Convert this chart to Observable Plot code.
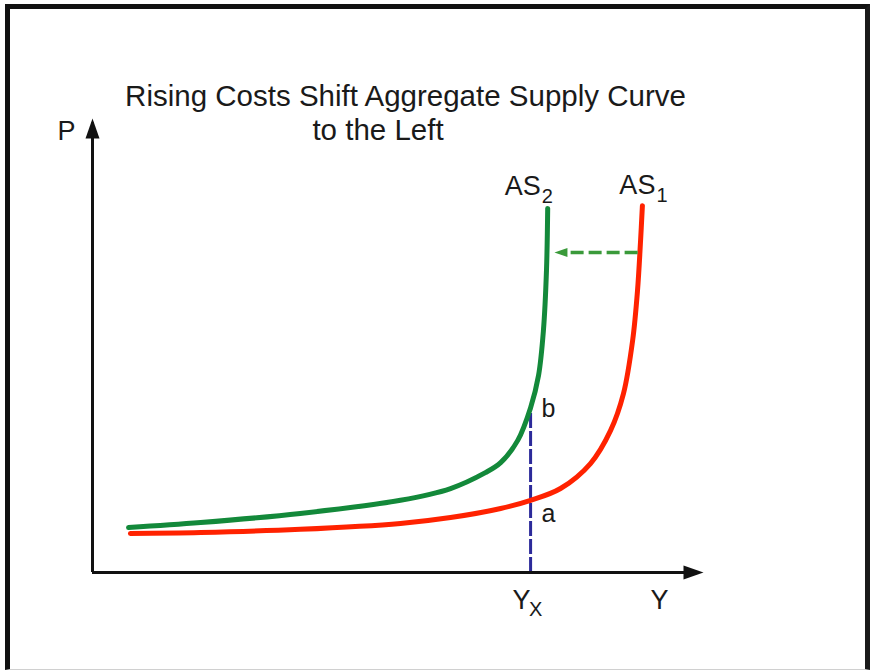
<!DOCTYPE html>
<html>
<head>
<meta charset="utf-8">
<script src="https://cdn.jsdelivr.net/npm/d3@7"></script>
<script src="https://cdn.jsdelivr.net/npm/@observablehq/plot@0.6"></script>
<style>
  html, body { margin: 0; padding: 0; background: #fff; }
  #wrap { position: relative; width: 874px; height: 670px; overflow: hidden; }
  #wrap svg { display: block; }
  #border { position: absolute; left: 5px; top: 4px; width: 865px; height: 666px; box-sizing: border-box;
            border-left: 5px solid #111; border-top: 5px solid #111; border-right: 5px solid #1a1a1a;
            border-bottom: 1px solid #d0d0d0; pointer-events: none; }
</style>
</head>
<body>
<div id="wrap"><div id="border"></div></div>
<script>
// ---- Data (output Y on x, price level P on y; arbitrary units 0..100) ----
const titleLine1 = "Rising Costs Shift Aggregate Supply Curve";
const titleLine2 = "to the Left";

const as1X = [6.2, 17.7, 34.0, 50.4, 58.6, 66.8, 71.7, 76.6, 81.5, 84.8, 86.9, 88.4, 89.2, 89.7, 90.0];
const as1P = [8.6, 8.8, 9.5, 10.8, 12.1, 14.1, 15.9, 18.5, 24.0, 31.3, 39.4, 51.1, 62.1, 73.1, 80.8];

const as2X = [5.9, 17.7, 34.0, 50.4, 58.6, 64.3, 66.8, 69.6, 71.7, 73.0, 73.8, 74.3, 74.5];
const as2P = [9.9, 11.0, 13.0, 15.9, 18.5, 22.0, 24.2, 29.1, 36.3, 43.4, 53.3, 66.5, 80.2];

const yx = 71.7;          // output level Yx
const pointAP = 15.9;     // price at point a (on AS1)
const pointBP = 36.3;     // price at point b (on AS2)

const shiftP = 70.5;      // price level of the shift arrow
const shiftFrom = 89.3;   // starts at AS1
const shiftTo = 75.6;     // ends at AS2

const axisMax = 100;

const as1 = as1X.map((x, i) => ({x, p: as1P[i]}));
const as2 = as2X.map((x, i) => ({x, p: as2P[i]}));
const as1Top = as1[as1.length - 1];
const as2Top = as2[as2.length - 1];

// custom arrowhead symbol: tip at origin, pointing up
const arrowHead = {
  draw(ctx, size) {
    const r = Math.sqrt(size / Math.PI);
    ctx.moveTo(0, 0);
    ctx.lineTo(0.7 * r, 2 * r);
    ctx.lineTo(-0.7 * r, 2 * r);
    ctx.closePath();
  }
};

const font = "Liberation Sans, Arial, Helvetica, sans-serif";
const txt = {fontFamily: font, fill: "#1a1a1a", lineAnchor: "bottom"};

const chart = Plot.plot({
  width: 874,
  height: 670,
  marginLeft: 92,
  marginRight: 171,
  marginTop: 118,
  marginBottom: 98,
  x: {domain: [0, axisMax], axis: null},
  y: {domain: [0, axisMax], axis: null},
  style: {background: "white"},
  marks: [
    // blue dashed guide at Yx
    Plot.ruleX([yx], {y1: 0, y2: pointBP, stroke: "#2c2a9a", strokeWidth: 3, strokeDasharray: "15,3"}),
    // curves
    Plot.line(as1, {x: "x", y: "p", curve: "catmull-rom", stroke: "#ff2200", strokeWidth: 5, strokeLinecap: "round"}),
    Plot.line(as2, {x: "x", y: "p", curve: "catmull-rom", stroke: "#13893a", strokeWidth: 5, strokeLinecap: "round"}),
    // shift arrow
    Plot.ruleY([shiftP], {x1: shiftFrom, x2: shiftTo + 1.2, stroke: "#3a9a3a", strokeWidth: 3.5, strokeDasharray: "13,5"}),
    Plot.dot([{x: shiftTo, p: shiftP}], {x: "x", y: "p", symbol: arrowHead, r: 6.5, rotate: -90, fill: "#3a9a3a", stroke: "none"}),
    // axes
    Plot.ruleX([0], {y1: 0, y2: axisMax - 1, stroke: "#111", strokeWidth: 3}),
    Plot.ruleY([0], {x1: 0, x2: axisMax - 1, stroke: "#111", strokeWidth: 3}),
    Plot.dot([{x: 0, p: axisMax}], {x: "x", y: "p", symbol: arrowHead, r: 10, fill: "#111", stroke: "none"}),
    Plot.dot([{x: axisMax, p: 0}], {x: "x", y: "p", symbol: arrowHead, r: 10, rotate: 90, fill: "#111", stroke: "none"}),
    // title
    Plot.text([titleLine1], {frameAnchor: "top", text: d => d, dx: 7.5, dy: -13, fontSize: 29.5, ...txt}),
    Plot.text([titleLine2], {frameAnchor: "top", text: d => d, dx: -20, dy: 21, fontSize: 29.5, ...txt}),
    // axis labels
    Plot.text(["P"], {x: 0, y: axisMax, text: d => d, dx: -26, dy: 21, fontSize: 27, ...txt}),
    Plot.text(["Y"], {x: axisMax, y: 0, text: d => d, dx: -44, dy: 36, fontSize: 27, ...txt}),
    Plot.text(["Y"], {x: yx, y: 0, text: d => d, dx: -9, dy: 36, fontSize: 27, ...txt}),
    Plot.text(["X"], {x: yx, y: 0, text: d => d, dx: 5, dy: 43, fontSize: 20, ...txt}),
    // curve labels
    Plot.text(["AS"], {x: as1Top.x, y: as1Top.p, text: d => d, textAnchor: "end", dx: 13, dy: -12, fontSize: 27, ...txt}),
    Plot.text(["1"], {x: as1Top.x, y: as1Top.p, text: d => d, textAnchor: "start", dx: 14, dy: -4, fontSize: 20, ...txt}),
    Plot.text(["AS"], {x: as2Top.x, y: as2Top.p, text: d => d, textAnchor: "end", dx: -7, dy: -13, fontSize: 27, ...txt}),
    Plot.text(["2"], {x: as2Top.x, y: as2Top.p, text: d => d, textAnchor: "start", dx: -6, dy: -5, fontSize: 20, ...txt}),
    // point labels
    Plot.text(["a"], {x: yx, y: pointAP, text: d => d, textAnchor: "start", dx: 11, dy: 22, fontSize: 25, ...txt}),
    Plot.text(["b"], {x: yx, y: pointBP, text: d => d, textAnchor: "start", dx: 11, dy: 9, fontSize: 25, ...txt})
  ]
});
document.getElementById("wrap").prepend(chart);
</script>
</body>
</html>
